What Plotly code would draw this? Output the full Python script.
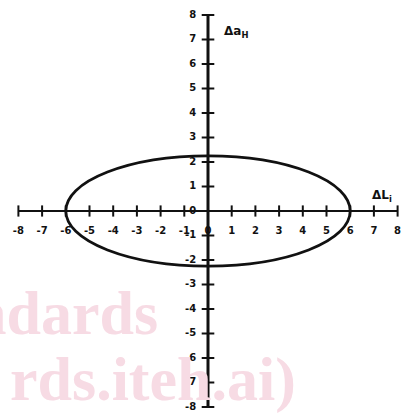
import plotly.graph_objects as go

# data
x_ticks = [-8, -7, -6, -5, -4, -3, -2, -1, 1, 2, 3, 4, 5, 6, 7, 8]
x_tick_labels = ["-8", "-7", "-6", "-5", "-4", "-3", "-2", "-1", "1", "2", "3", "4", "5", "6", "7", "8"]
y_ticks = [-8, -7, -6, -5, -4, -3, -2, -1, 1, 2, 3, 4, 5, 6, 7, 8]
y_tick_labels = ["-8", "-7", "-6", "-5", "-4", "-3", "-2", "-1", "1", "2", "3", "4", "5", "6", "7", "8"]
ellipse_semi_x = 6.0
ellipse_semi_y = 2.25
axis_min = -8
axis_max = 8

W, H = 404, 416
CX, CY = 208, 211      # pixel of origin
SX, SY = 23.7, 24.5    # pixels per unit

xr = [-CX / SX, (W - CX) / SX]
yr = [-(H - CY) / SY, CY / SY]

BLACK = "#111111"
tick_font = dict(family="DejaVu Sans", size=10, color=BLACK, weight="bold")

fig = go.Figure()

# axes lines
fig.add_shape(type="line", x0=axis_min, x1=axis_max, y0=0, y1=0, line=dict(color=BLACK, width=2), layer="above")
fig.add_shape(type="line", x0=0, x1=0, y0=axis_min, y1=axis_max, line=dict(color=BLACK, width=3), layer="above")

# ellipse
fig.add_shape(type="circle", x0=-ellipse_semi_x, x1=ellipse_semi_x, y0=-ellipse_semi_y, y1=ellipse_semi_y,
              line=dict(color=BLACK, width=2.8), layer="above")

# tick marks
fig.add_trace(go.Scatter(x=x_ticks, y=[0] * len(x_ticks), mode="markers",
                         marker=dict(symbol="line-ns", size=8, line=dict(color=BLACK, width=2)),
                         hoverinfo="skip", showlegend=False))
fig.add_trace(go.Scatter(x=[0] * len(y_ticks), y=y_ticks, mode="markers",
                         marker=dict(symbol="line-ew", size=9, line=dict(color=BLACK, width=2)),
                         hoverinfo="skip", showlegend=False))

# tick labels
fig.add_trace(go.Scatter(x=x_ticks + [0], y=[-0.82] * (len(x_ticks) + 1), mode="text",
                         text=x_tick_labels + ["0"], textposition="middle center", textfont=tick_font,
                         hoverinfo="skip", showlegend=False))
fig.add_trace(go.Scatter(x=[-0.5] * (len(y_ticks) + 1), y=y_ticks + [0], mode="text",
                         text=y_tick_labels + ["0"], textposition="middle left", textfont=tick_font,
                         hoverinfo="skip", showlegend=False))

# axis titles
fig.add_annotation(x=0.6, y=7.3, text="<b>Δa<sub>H</sub></b>", showarrow=False, xanchor="left",
                   yanchor="middle", font=dict(family="DejaVu Sans", size=12, color=BLACK))
fig.add_annotation(x=6.85, y=0.6, text="<b>ΔL<sub>i</sub></b>", showarrow=False, xanchor="left",
                   yanchor="middle", font=dict(family="DejaVu Sans", size=12, color=BLACK))

# watermark
wm_font = dict(family="Liberation Serif", size=62, color="#f7dbe4", weight="bold")
fig.add_annotation(xref="paper", yref="paper", x=160 / W, y=1 - 313 / H, text="ndards", showarrow=False,
                   xanchor="right", yanchor="middle", font=wm_font)
fig.add_annotation(xref="paper", yref="paper", x=298 / W, y=1 - 379 / H, text="rds.iteh.ai)", showarrow=False,
                   xanchor="right", yanchor="middle", font=wm_font)

fig.update_xaxes(range=xr, visible=False, fixedrange=True)
fig.update_yaxes(range=yr, visible=False, fixedrange=True)
fig.update_layout(width=W, height=H, margin=dict(l=0, r=0, t=0, b=0),
                  paper_bgcolor="white", plot_bgcolor="white")

fig.write_html("out.html", config={"displayModeBar": False},
               post_script="document.body.style.margin='0';document.body.style.overflow='hidden';")
